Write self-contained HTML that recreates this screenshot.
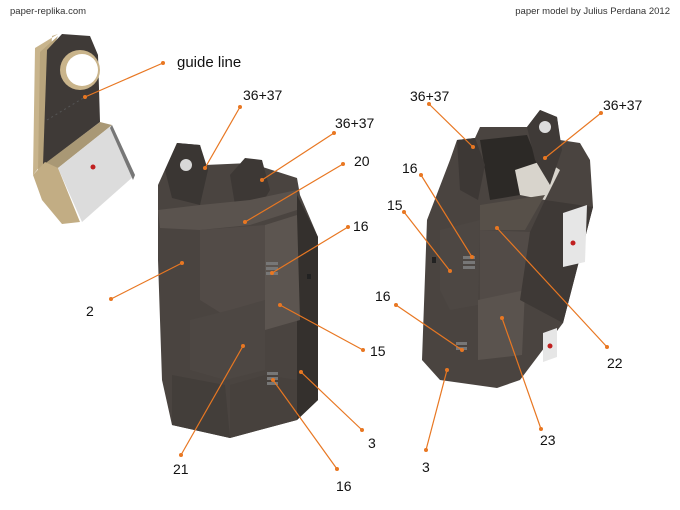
<!DOCTYPE html>
<html><head><meta charset="utf-8"><style>
html,body{margin:0;padding:0;background:#fff;}
svg{display:block;font-family:"Liberation Sans",Arial,sans-serif;}
</style></head><body>
<svg width="680" height="510" viewBox="0 0 680 510" xmlns="http://www.w3.org/2000/svg">
<rect width="680" height="510" fill="#fff"/>
<text x="10" y="14" font-size="9.5" fill="#333">paper-replika.com</text>
<text x="670" y="14" font-size="9.5" fill="#333" text-anchor="end">paper model by Julius Perdana 2012</text>

<!-- Guide piece -->
<polygon points="33,175 35,48 58,34 52,36 45,160" fill="#c8b48c"/>
<polygon points="38,172 40,52 58,36 50,55 48,168" fill="#b8a47c"/>
<polygon points="43,165 47,50 62,34 90,36 98,55 100,122 45,164" fill="#3f3a37"/>
<circle cx="80" cy="70" r="20" fill="#c9b48b"/>
<circle cx="82" cy="70" r="16" fill="#fff"/>
<polygon points="43,165 100,122 112,125 58,168" fill="#a99875"/>
<polygon points="33,175 45,162 58,168 80,222 62,224 42,200" fill="#c2ad84"/>
<polygon points="58,168 112,125 135,175 82,222" fill="#dcdcdc"/>
<polygon points="112,125 135,175 133,180 110,128" fill="#777"/>
<circle cx="93" cy="167" r="2.5" fill="#c02020"/>
<line x1="47" y1="120" x2="85" y2="97" stroke="#555" stroke-dasharray="2,3"/>

<!-- Left cylinder -->
<polygon points="158,185 177,143 200,145 205,165 250,163 297,178 300,195 318,237 318,400 297,420 230,438 172,425 162,380 158,260" fill="#4a4440"/>
<polygon points="297,195 318,237 318,400 297,420" fill="#34302d"/>
<polygon points="165,170 177,143 200,145 208,170 200,205 172,198" fill="#3a3633"/>
<circle cx="186" cy="165" r="6" fill="#d8d8d8"/>
<polygon points="230,175 245,158 262,160 270,190 255,215 235,205" fill="#3d3835"/>
<polygon points="158,210 200,205 250,200 297,190 297,210 250,225 200,230 160,228" fill="#5a534e"/>
<polygon points="200,230 265,225 265,300 232,320 200,300" fill="#524b47"/>
<polygon points="265,225 297,215 300,320 265,330" fill="#5c5550"/>
<polygon points="190,320 230,310 265,300 265,370 225,380 190,370" fill="#4d4743"/>
<polygon points="172,375 225,385 230,438 172,425" fill="#433e3a"/>
<polygon points="230,385 265,375 297,380 297,420 230,438" fill="#47413d"/>
<rect x="266" y="262" width="12" height="3" fill="#777"/><rect x="266" y="267" width="12" height="3" fill="#777"/><rect x="266" y="272" width="12" height="3" fill="#777"/>
<rect x="267" y="372" width="11" height="3" fill="#777"/><rect x="267" y="377" width="11" height="3" fill="#777"/><rect x="267" y="382" width="11" height="3" fill="#777"/>
<rect x="307" y="274" width="4" height="5" fill="#222"/>

<!-- Right cylinder -->
<polygon points="427,220 450,160 457,140 475,138 480,127 527,127 540,110 557,117 560,140 580,143 590,160 593,207 563,323 520,380 497,388 440,380 422,360" fill="#4a4440"/>
<polygon points="480,140 527,135 545,180 520,195 490,200" fill="#2c2926"/>
<polygon points="515,170 545,160 560,170 545,200 520,195" fill="#d8d4cc"/>
<polygon points="527,127 540,110 557,117 562,150 550,185 535,160" fill="#3f3a37"/>
<circle cx="545" cy="127" r="6" fill="#ddd"/>
<polygon points="457,140 475,138 485,165 478,200 460,190" fill="#3d3835"/>
<polygon points="480,205 545,195 525,230 480,230" fill="#575049"/>
<polygon points="440,230 480,220 478,305 450,310 440,290" fill="#4d4743"/>
<polygon points="480,230 530,232 525,300 480,305" fill="#524b47"/>
<polygon points="478,300 525,290 522,355 478,360" fill="#5a534e"/>
<polygon points="545,200 593,207 563,323 520,300 530,232" fill="#3e3936"/>
<polygon points="563,213 587,205 585,262 563,267" fill="#e6e6e6"/>
<circle cx="573" cy="243" r="2.5" fill="#c02020"/>
<polygon points="543,333 557,328 557,357 543,362" fill="#e6e6e6"/>
<circle cx="550" cy="346" r="2.5" fill="#c02020"/>
<rect x="463" y="256" width="12" height="3" fill="#777"/><rect x="463" y="261" width="12" height="3" fill="#777"/><rect x="463" y="266" width="12" height="3" fill="#777"/>
<rect x="456" y="342" width="11" height="3" fill="#777"/><rect x="456" y="347" width="11" height="3" fill="#777"/>
<rect x="432" y="257" width="4" height="6" fill="#222"/>

<!-- Callouts -->
<g stroke="#e87722" stroke-width="1.2" fill="none">
<line x1="163" y1="63" x2="85" y2="97"/>
<line x1="240" y1="107" x2="205" y2="168"/>
<line x1="334" y1="133" x2="262" y2="180"/>
<line x1="343" y1="164" x2="245" y2="222"/>
<line x1="348" y1="227" x2="272" y2="273"/>
<line x1="111" y1="299" x2="182" y2="263"/>
<line x1="363" y1="350" x2="280" y2="305"/>
<line x1="362" y1="430" x2="301" y2="372"/>
<line x1="181" y1="455" x2="243" y2="346"/>
<line x1="337" y1="469" x2="273" y2="380"/>
<line x1="429" y1="104" x2="473" y2="147"/>
<line x1="601" y1="113" x2="545" y2="158"/>
<line x1="421" y1="175" x2="472" y2="257"/>
<line x1="404" y1="212" x2="450" y2="271"/>
<line x1="396" y1="305" x2="462" y2="350"/>
<line x1="607" y1="347" x2="497" y2="228"/>
<line x1="541" y1="429" x2="502" y2="318"/>
<line x1="426" y1="450" x2="447" y2="370"/>
</g>
<g fill="#e87722">
<circle cx="163" cy="63" r="2"/><circle cx="85" cy="97" r="2"/>
<circle cx="240" cy="107" r="2"/><circle cx="205" cy="168" r="2"/>
<circle cx="334" cy="133" r="2"/><circle cx="262" cy="180" r="2"/>
<circle cx="343" cy="164" r="2"/><circle cx="245" cy="222" r="2"/>
<circle cx="348" cy="227" r="2"/><circle cx="272" cy="273" r="2"/>
<circle cx="111" cy="299" r="2"/><circle cx="182" cy="263" r="2"/>
<circle cx="363" cy="350" r="2"/><circle cx="280" cy="305" r="2"/>
<circle cx="362" cy="430" r="2"/><circle cx="301" cy="372" r="2"/>
<circle cx="181" cy="455" r="2"/><circle cx="243" cy="346" r="2"/>
<circle cx="337" cy="469" r="2"/><circle cx="273" cy="380" r="2"/>
<circle cx="429" cy="104" r="2"/><circle cx="473" cy="147" r="2"/>
<circle cx="601" cy="113" r="2"/><circle cx="545" cy="158" r="2"/>
<circle cx="421" cy="175" r="2"/><circle cx="472" cy="257" r="2"/>
<circle cx="404" cy="212" r="2"/><circle cx="450" cy="271" r="2"/>
<circle cx="396" cy="305" r="2"/><circle cx="462" cy="350" r="2"/>
<circle cx="607" cy="347" r="2"/><circle cx="497" cy="228" r="2"/>
<circle cx="541" cy="429" r="2"/><circle cx="502" cy="318" r="2"/>
<circle cx="426" cy="450" r="2"/><circle cx="447" cy="370" r="2"/>
</g>
<g font-size="14" fill="#111">
<text x="177" y="67" font-size="15">guide line</text>
<text x="243" y="100">36+37</text>
<text x="335" y="128">36+37</text>
<text x="354" y="166">20</text>
<text x="353" y="231">16</text>
<text x="86" y="316">2</text>
<text x="370" y="356">15</text>
<text x="368" y="448">3</text>
<text x="173" y="474">21</text>
<text x="336" y="491">16</text>
<text x="410" y="101">36+37</text>
<text x="603" y="110">36+37</text>
<text x="402" y="173">16</text>
<text x="387" y="210">15</text>
<text x="375" y="301">16</text>
<text x="607" y="368">22</text>
<text x="540" y="445">23</text>
<text x="422" y="472">3</text>
</g>
</svg>
</body></html>
